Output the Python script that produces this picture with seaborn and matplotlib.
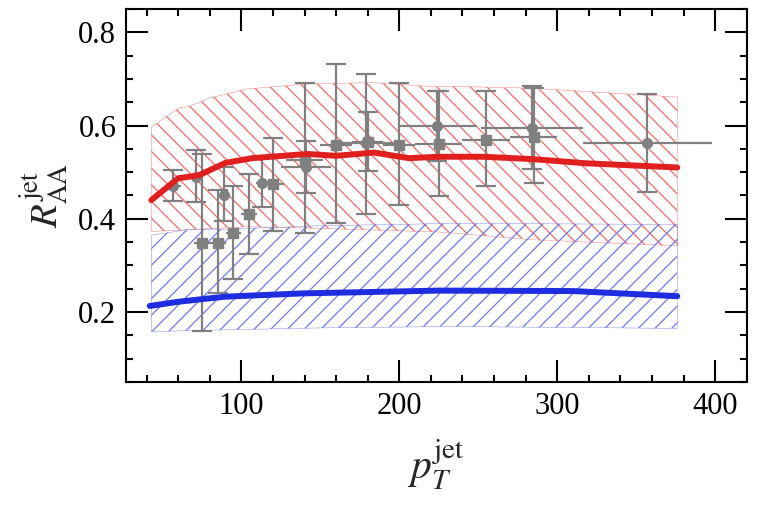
import numpy as np
import pandas as pd
import matplotlib
matplotlib.use("Agg")
import matplotlib.pyplot as plt
import seaborn as sns
from matplotlib.ticker import MultipleLocator

# --- theory curves ---
red_x = [43, 60, 73, 90, 107, 142, 160, 184, 206, 225, 253, 284, 318, 376]
red_y = [0.440, 0.487, 0.493, 0.520, 0.530, 0.539, 0.535, 0.542, 0.530, 0.533, 0.533, 0.528, 0.519, 0.510]

red_band_x = [43, 60, 67, 80, 103, 141, 183, 223, 232, 284, 376]
red_hi = [0.596, 0.637, 0.641, 0.659, 0.678, 0.689, 0.692, 0.683, 0.684, 0.680, 0.661]
red_lo = [0.373, 0.375, 0.377, 0.379, 0.383, 0.380, 0.376, 0.372, 0.370, 0.355, 0.342]

blue_x = [42, 60, 76, 90, 139, 225, 310, 376]
blue_y = [0.213, 0.222, 0.228, 0.233, 0.240, 0.246, 0.245, 0.234]

blue_band_x = [43, 65, 93, 150, 232, 376]
blue_hi = [0.365, 0.376, 0.378, 0.385, 0.390, 0.388]
blue_lo = [0.158, 0.160, 0.162, 0.166, 0.169, 0.165]

# --- data points (circles) ---
circ_x = [57, 71, 89, 113, 141, 179, 224, 284, 357]
circ_y = [0.470, 0.490, 0.452, 0.477, 0.512, 0.562, 0.598, 0.594, 0.563]
circ_up = [0.505, 0.548, 0.512, 0.530, 0.567, 0.711, 0.674, 0.684, 0.668]
circ_dn = [0.439, 0.435, 0.395, 0.426, 0.456, 0.410, 0.524, 0.506, 0.458]
circ_xerr = [5, 4, 4, 4, 16, 20, 25, 32, 41]

# --- data points (squares) ---
sq_x = [75, 85, 95, 105, 120, 140, 160, 180, 200, 225, 255, 285]
sq_y = [0.349, 0.349, 0.369, 0.411, 0.474, 0.526, 0.558, 0.565, 0.558, 0.560, 0.569, 0.576]
sq_up = [0.539, 0.462, 0.470, 0.496, 0.573, 0.691, 0.731, 0.630, 0.692, 0.673, 0.673, 0.680]
sq_dn = [0.159, 0.240, 0.270, 0.324, 0.374, 0.370, 0.390, 0.503, 0.430, 0.449, 0.470, 0.477]
sq_xerr = [5, 5, 5, 5, 7, 12, 10, 10, 10, 15, 15, 15]

sns.set_theme(style="ticks")
plt.rcParams['font.family'] = ['Liberation Serif', 'DejaVu Serif']
plt.rcParams['mathtext.fontset'] = 'stix'
plt.rcParams['hatch.linewidth'] = 0.9
plt.rcParams['axes.linewidth'] = 1.5

fig = plt.figure(figsize=(7.57, 5.09), dpi=100)
ax = fig.add_axes([0.1665, 0.2495, 0.82, 0.733])

# hatched uncertainty bands
ax.fill_between(red_band_x, red_lo, red_hi, facecolor='none', edgecolor='#f26a6a',
                hatch='\\\\', linewidth=0.3, zorder=1)
ax.fill_between(blue_band_x, blue_lo, blue_hi, facecolor='none', edgecolor='#6f78f0',
                hatch='//', linewidth=0.3, zorder=1)

grey = '#808080'
# horizontal bars (no caps), then vertical bars with caps + markers
for xs, ys, xe, up, dn, mk in [(circ_x, circ_y, circ_xerr, circ_up, circ_dn, 'o'),
                               (sq_x, sq_y, sq_xerr, sq_up, sq_dn, 's')]:
    ax.errorbar(xs, ys, xerr=xe, fmt='none', ecolor=grey, elinewidth=1.6,
                capsize=0, zorder=3)
    ax.errorbar(xs, ys, yerr=[np.subtract(ys, dn), np.subtract(up, ys)],
                fmt=mk, color=grey, ms=7, elinewidth=1.6,
                capsize=7, capthick=1.6, zorder=3)

red_df = pd.DataFrame({'pt': red_x, 'raa': red_y})
blue_df = pd.DataFrame({'pt': blue_x, 'raa': blue_y})
sns.lineplot(data=red_df, x='pt', y='raa', ax=ax, color='#e0201e', linewidth=4.3,
             sort=False, zorder=4)
sns.lineplot(data=blue_df, x='pt', y='raa', ax=ax, color='#1f2de0', linewidth=4.3,
             sort=False, zorder=4)

ax.set_xlim(27, 420)
ax.set_ylim(0.05, 0.85)
ax.xaxis.set_major_locator(MultipleLocator(100))
ax.xaxis.set_minor_locator(MultipleLocator(20))
ax.yaxis.set_major_locator(MultipleLocator(0.2))
ax.yaxis.set_minor_locator(MultipleLocator(0.05))
ax.tick_params(which='both', direction='in', top=True, right=True, width=1.5,
               labelsize=22, colors='black')
ax.tick_params(which='major', length=16, pad=7)
ax.tick_params(which='minor', length=5)
for s in ax.spines.values():
    s.set_color('black')

ax.set_xlabel(r'$p_T^{\rm jet}$', fontsize=30, labelpad=12)
ax.set_ylabel(r'$R_{\rm AA}^{\rm jet}$', fontsize=28, labelpad=6)

fig.savefig('out.png', dpi=100, facecolor='white')
